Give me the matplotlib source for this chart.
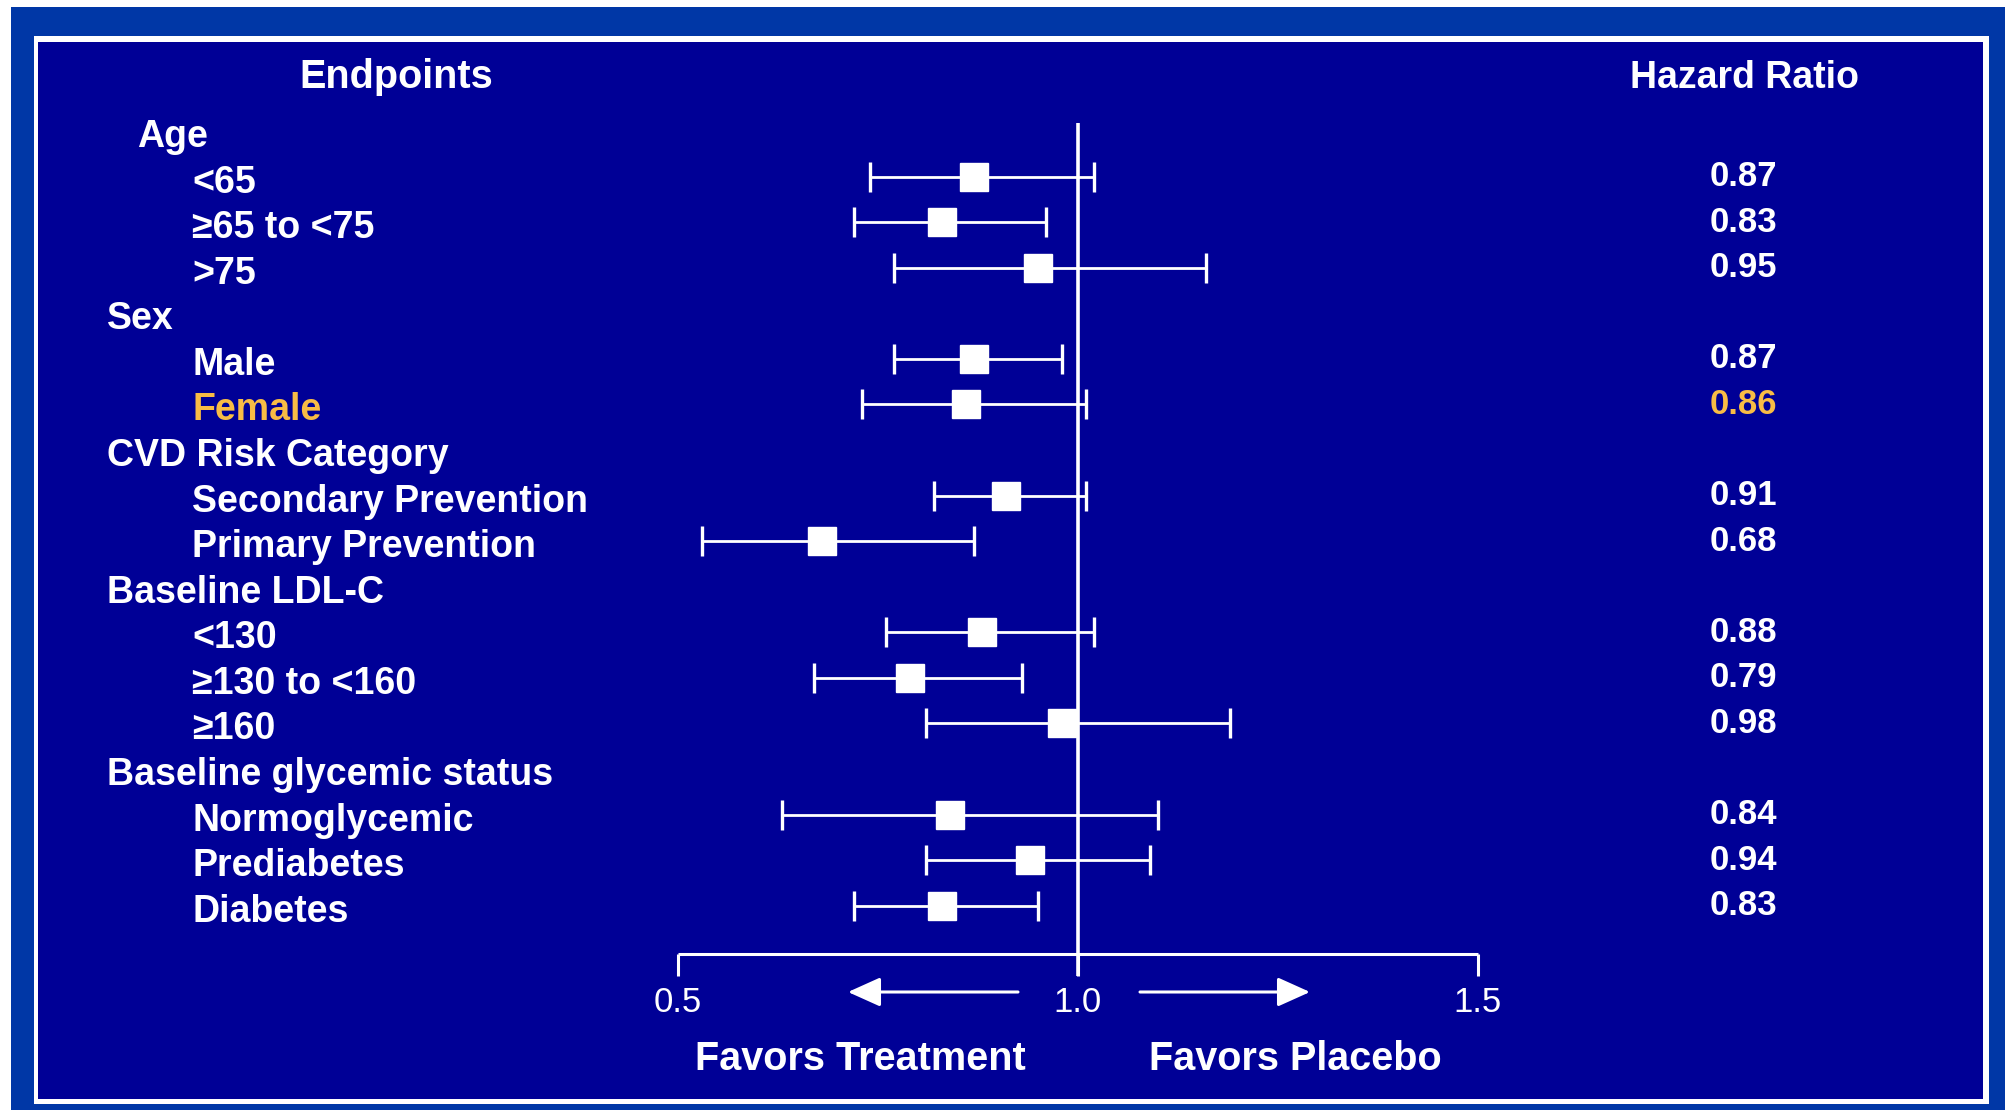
#!/usr/bin/env python3

# %% Imports
import matplotlib
matplotlib.use('Agg')
import numpy as np
import matplotlib.pyplot as plt
from matplotlib.patches import Rectangle

# %% Data
groups = ['Age', 'Sex', 'CVD Risk Category', 'Baseline LDL-C',
          'Baseline glycemic status']
subgroups = [
    ['<65', '≥65 to <75', '>75'],
    ['Male', 'Female'],
    ['Secondary Prevention', 'Primary Prevention'],
    ['<130', '≥130 to <160', '≥160'],
    ['Normoglycemic', 'Prediabetes', 'Diabetes'],
]
hazard_ratio = [0.87, 0.83, 0.95, 0.87, 0.86, 0.91, 0.68,
                0.88, 0.79, 0.98, 0.84, 0.94, 0.83]
ci_low = [0.74, 0.72, 0.77, 0.77, 0.73, 0.82, 0.53,
          0.76, 0.67, 0.81, 0.63, 0.81, 0.72]
ci_high = [1.02, 0.96, 1.16, 0.98, 1.01, 1.01, 0.87,
           1.02, 0.93, 1.19, 1.10, 1.09, 0.95]
highlight = 'Female'
xticks = [0.5, 1.0, 1.5]

# %% Style
plt.rcParams['font.family'] = ['Liberation Sans', 'DejaVu Sans']
W, H = 2005, 1110
navy = '#000096'
outer_blue = '#0037A6'
gold = '#F8BC45'

# pixel layout of the slide
x_half, px_per_unit = 677.5, 800.5      # where HR=0.5 sits, px per 1.0 HR
row0, row_step = 131.1, 45.56           # y of first row, row spacing


def hx(px):
    """figure pixel x -> hazard ratio units"""
    return 0.5 + (px - x_half) / px_per_unit


fig = plt.figure(figsize=(W / 100, H / 100), dpi=100, facecolor='white')


def frame(x0, y0, x1, y1, color):
    fig.add_artist(Rectangle((x0 / W, 1 - y1 / H), (x1 - x0) / W, (y1 - y0) / H,
                             transform=fig.transFigure, color=color, lw=0,
                             zorder=-10))


frame(11, 7, W, H, outer_blue)
frame(34, 36, 1989, 1104, 'white')
frame(38, 42, 1983, 1099, navy)

ax = fig.add_axes([0, 0, 1, 1])
ax.set_xlim(hx(0), hx(W))
ax.set_ylim(H, 0)
ax.axis('off')
ax.patch.set_alpha(0)

# %% Build rows
labels, is_header, y_rows = [], [], []
i = 0
for g, subs in zip(groups, subgroups):
    labels.append(g)
    is_header.append(True)
    y_rows.append(row0 + row_step * i)
    i += 1
    for s in subs:
        labels.append(s)
        is_header.append(False)
        y_rows.append(row0 + row_step * i)
        i += 1
y_items = np.array([y for y, h in zip(y_rows, is_header) if not h])
item_labels = [l for l, h in zip(labels, is_header) if not h]

# %% Headers
ax.text(hx(396), 88.5, 'Endpoints', ha='center', va='baseline',
        fontsize=28.5, fontweight='bold', color='white')
ax.text(hx(1745), 88, 'Hazard Ratio', ha='center', va='baseline',
        fontsize=27, fontweight='bold', color='white')

for lab, hdr, y in zip(labels, is_header, y_rows):
    if hdr:
        x = 137 if lab == 'Age' else 107
    else:
        x = 192
    ax.text(hx(x), y + 16, lab, ha='left', va='baseline', fontsize=27,
            fontweight='bold', color=gold if lab == highlight else 'white')

for lab, hr, y in zip(item_labels, hazard_ratio, y_items):
    ax.text(hx(1743), y + 9.5, f'{hr:.2f}', ha='center', va='baseline',
            fontsize=25, fontweight='bold',
            color=gold if lab == highlight else 'white')

# %% Forest plot
hr = np.array(hazard_ratio)
ax.vlines(1.0, 123, 976, color='white', lw=2.6, zorder=2)
ax.errorbar(hr, y_items, xerr=[hr - np.array(ci_low), np.array(ci_high) - hr],
            fmt='s', ms=19.5, mfc='white', mec='white',
            ecolor='white', elinewidth=2, capsize=11, capthick=2.4, zorder=3)

# axis with ticks
axis_y = 954
ax.hlines(axis_y, xticks[0], xticks[-1], color='white', lw=2.2)
ax.vlines(xticks, axis_y, 976, color='white', lw=2.2)
for t in xticks:
    ax.text(t, 1012, f'{t:.1f}', ha='center', va='baseline', fontsize=25,
            color='white')

arrow_kw = dict(arrowstyle='-|>,head_length=1.0,head_width=0.45',
                color='white', lw=2.2, shrinkA=0, shrinkB=0, mutation_scale=20)
ax.annotate('', xy=(hx(848), 992), xytext=(hx(1018), 992), arrowprops=arrow_kw)
ax.annotate('', xy=(hx(1310), 992), xytext=(hx(1140), 992), arrowprops=arrow_kw)

ax.text(hx(860), 1070, 'Favors Treatment', ha='center', va='baseline',
        fontsize=28.5, fontweight='bold', color='white')
ax.text(hx(1295), 1070, 'Favors Placebo', ha='center', va='baseline',
        fontsize=28.5, fontweight='bold', color='white')

# %% Save plot
fig.savefig('out.png', dpi=100, facecolor='white')
